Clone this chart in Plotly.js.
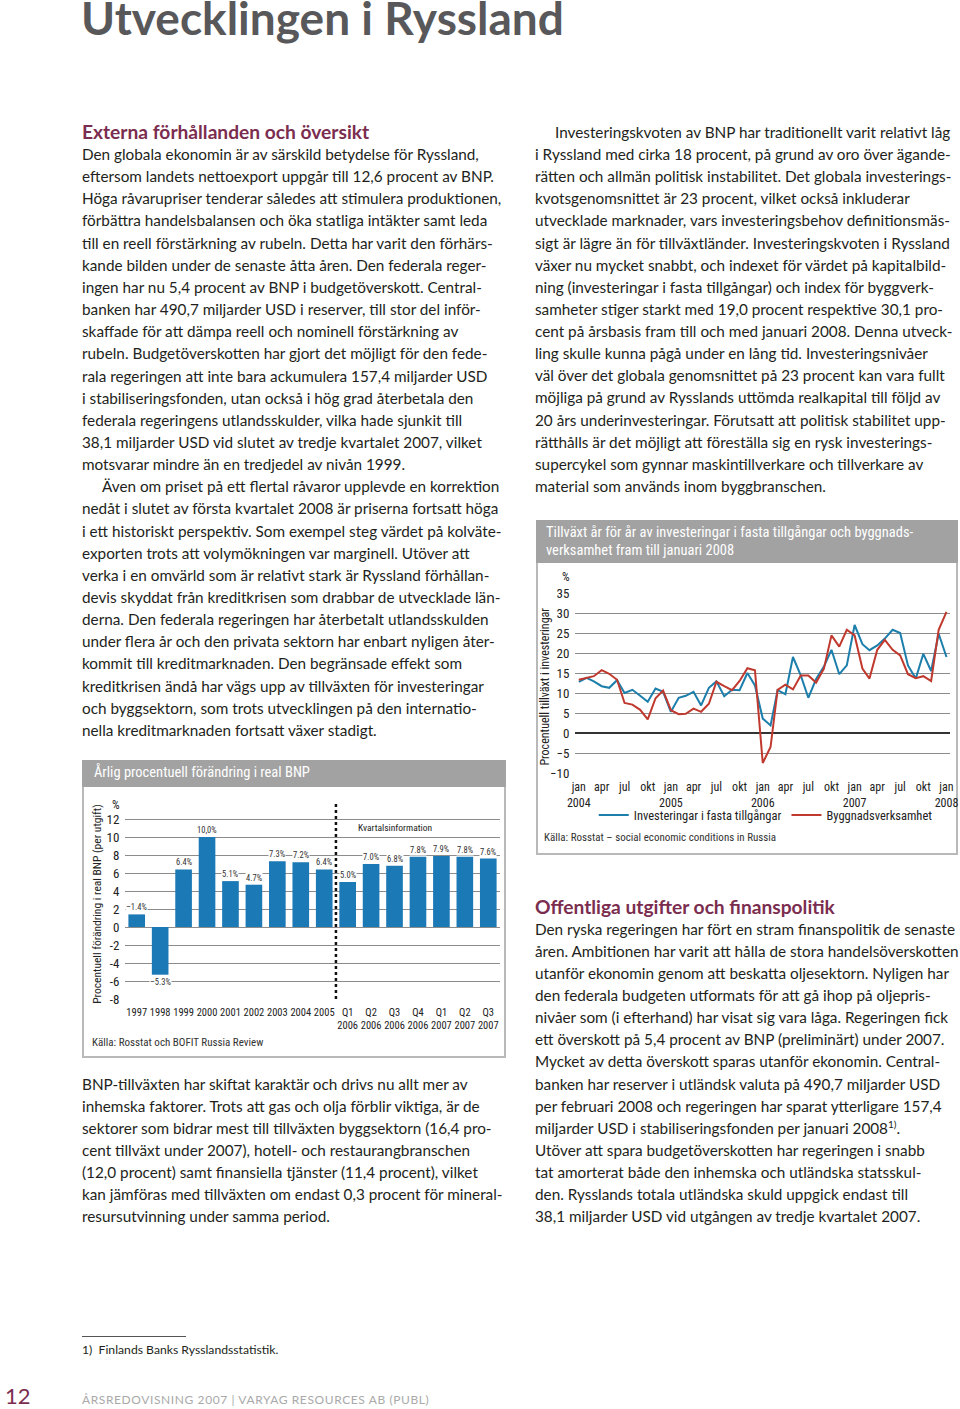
<!DOCTYPE html>
<html><head><meta charset="utf-8">
<script src="https://cdn.plot.ly/plotly-3.0.1.min.js"></script>
<style>
html,body{margin:0;padding:0;background:#fff;}
#page{position:relative;width:960px;height:1409px;overflow:hidden;background:#fff;font-family:Lato,"Open Sans",sans-serif;color:#231f20;}
.l{position:absolute;height:22px;line-height:22px;font-size:15.3px;white-space:nowrap;text-align:left;}
.h{position:absolute;font-size:19.2px;font-weight:700;color:#7b2d4f;line-height:22px;white-space:nowrap;}
.box{position:absolute;border:2px solid #b9b9b9;background:#fff;box-sizing:border-box;}
.hdr{position:absolute;background:#a2a2a2;}
.ct{position:absolute;color:#fff;font-family:"Liberation Sans Narrow","Roboto Condensed","DejaVu Sans Condensed",Roboto,sans-serif;font-size:14.5px;white-space:nowrap;line-height:18px;}
.src{position:absolute;font-family:"Liberation Sans Narrow","Roboto Condensed","DejaVu Sans Condensed",Roboto,sans-serif;font-size:11px;color:#333;white-space:nowrap;}
.chart{position:absolute;}
</style>
</head><body>
<div id="page">
  <div style="position:absolute;left:81px;top:0px;font-size:46px;line-height:36px;font-weight:700;color:#58585a;white-space:nowrap;">Utvecklingen i Ryssland</div>

  <div class="h" style="left:82px;top:121px;">Externa förhållanden och översikt</div>
  <div class="h" style="left:535px;top:896px;">Offentliga utgifter och finanspolitik</div>

  <div class="box" style="left:82px;top:760px;width:424px;height:298px;"></div>
  <div class="hdr" style="left:82px;top:760px;width:424px;height:27px;"></div>
  <div class="ct" style="left:94px;top:764px;">Årlig procentuell förändring i real BNP</div>
  <div class="src" style="left:92px;top:1036px;">Källa: Rosstat och BOFIT Russia Review</div>
  <div id="barchart" class="chart" style="left:82px;top:788px;width:424px;height:268px;"></div>

  <div class="box" style="left:536px;top:520px;width:422px;height:335px;"></div>
  <div class="hdr" style="left:536px;top:520px;width:422px;height:43px;"></div>
  <div class="ct" style="left:546px;top:524px;">Tillväxt år för år av investeringar i fasta tillgångar och byggnads-</div>
  <div class="ct" style="left:546px;top:542px;">verksamhet fram till januari 2008</div>
  <div class="src" style="left:544px;top:831px;">Källa: Rosstat – social economic conditions in Russia</div>
  <div id="linechart" class="chart" style="left:537px;top:565px;width:423px;height:288px;"></div>

  <div style="position:absolute;left:82px;top:1336px;width:104px;height:1px;background:#555;"></div>
  <div style="position:absolute;left:82px;top:1342px;font-size:12.2px;line-height:16px;white-space:nowrap;">1)&nbsp; Finlands Banks Rysslandsstatistik.</div>
  <div style="position:absolute;left:5px;top:1384px;font-size:22px;line-height:24px;color:#7b2d4f;">12</div>
  <div style="position:absolute;left:82px;top:1392px;font-size:12px;line-height:16px;letter-spacing:0.6px;color:#a9a9a9;white-space:nowrap;">ÅRSREDOVISNING 2007 | VARYAG RESOURCES AB (PUBL)</div>
</div>

<script>
// ---------- data: bar chart ----------
const barCategories = ['1997','1998','1999','2000','2001','2002','2003','2004','2005','Q1 2006','Q2 2006','Q3 2006','Q4 2006','Q1 2007','Q2 2007','Q3 2007'];
const barTickText = ['1997','1998','1999','2000','2001','2002','2003','2004','2005','Q1<br>2006','Q2<br>2006','Q3<br>2006','Q4<br>2006','Q1<br>2007','Q2<br>2007','Q3<br>2007'];
const barValues = [1.4, -5.3, 6.4, 10.0, 5.1, 4.7, 7.3, 7.2, 6.4, 5.0, 7.0, 6.8, 7.8, 7.9, 7.8, 7.6];
const barLabels = ['–1.4%','–5.3%','6.4%','10,0%','5.1%','4.7%','7.3%','7.2%','6.4%','5.0%','7.0%','6.8%','7.8%','7.9%','7.8%','7.6%'];
const barYTicks = [-8,-6,-4,-2,0,2,4,6,8,10,12];

// ---------- data: line chart ----------
const lineMonths = ['2004-01-01','2004-02-01','2004-03-01','2004-04-01','2004-05-01','2004-06-01','2004-07-01','2004-08-01','2004-09-01','2004-10-01','2004-11-01','2004-12-01',
 '2005-01-01','2005-02-01','2005-03-01','2005-04-01','2005-05-01','2005-06-01','2005-07-01','2005-08-01','2005-09-01','2005-10-01','2005-11-01','2005-12-01',
 '2006-01-01','2006-02-01','2006-03-01','2006-04-01','2006-05-01','2006-06-01','2006-07-01','2006-08-01','2006-09-01','2006-10-01','2006-11-01','2006-12-01',
 '2007-01-01','2007-02-01','2007-03-01','2007-04-01','2007-05-01','2007-06-01','2007-07-01','2007-08-01','2007-09-01','2007-10-01','2007-11-01','2007-12-01','2008-01-01'];
const investeringar = [12.8,13.8,12.9,11.7,11.3,13.2,10.0,10.8,9.3,7.8,11.1,10.3,
 5.3,8.8,9.3,10.3,6.9,11.3,12.9,9.2,10.8,10.7,15.0,11.9,
 3.6,1.9,10.7,9.7,19.0,14.4,8.8,13.5,16.6,20.8,14.7,16.9,
 27.0,22.2,20.7,21.9,23.6,25.8,25.0,16.9,13.6,19.8,15.5,24.8,19.0];
const byggnad = [13.3,13.8,14.2,15.7,14.8,13.3,7.5,7.1,5.8,3.4,8.7,10.6,
 5.7,4.7,4.8,6.1,5.3,7.3,12.8,11.7,10.7,13.0,16.2,15.7,
 -7.5,-3.5,10.8,12.1,10.9,14.4,14.4,12.6,16.1,24.4,21.6,25.8,
 24.4,16.1,13.6,20.8,23.3,20.8,19.4,14.7,13.7,14.2,13.0,25.8,30.3];
const lineTickVals = ['2004-01-01','2004-04-01','2004-07-01','2004-10-01','2005-01-01','2005-04-01','2005-07-01','2005-10-01',
 '2006-01-01','2006-04-01','2006-07-01','2006-10-01','2007-01-01','2007-04-01','2007-07-01','2007-10-01','2008-01-01'];
const lineTickText = ['jan<br>2004','apr','jul','okt','jan<br>2005','apr','jul','okt','jan<br>2006','apr','jul','okt','jan<br>2007','apr','jul','okt','jan<br>2008'];
const seriesNames = ['Investeringar i fasta tillgångar','Byggnadsverksamhet'];

// ---------- text ----------
const leftLines = [
'Den globala ekonomin är av särskild betydelse för Ryssland,',
'eftersom landets nettoexport uppgår till 12,6 procent av BNP.',
'Höga råvarupriser tenderar således att stimulera produktionen,',
'förbättra handelsbalansen och öka statliga intäkter samt leda',
'till en reell förstärkning av rubeln. Detta har varit den förhärs-',
'kande bilden under de senaste åtta åren. Den federala reger-',
'ingen har nu 5,4 procent av BNP i budgetöverskott. Central-',
'banken har 490,7 miljarder USD i reserver, till stor del inför-',
'skaffade för att dämpa reell och nominell förstärkning av',
'rubeln. Budgetöverskotten har gjort det möjligt för den fede-',
'rala regeringen att inte bara ackumulera 157,4 miljarder USD',
'i stabiliseringsfonden, utan också i hög grad återbetala den',
'federala regeringens utlandsskulder, vilka hade sjunkit till',
'38,1 miljarder USD vid slutet av tredje kvartalet 2007, vilket',
'motsvarar mindre än en tredjedel av nivån 1999.',
'§Även om priset på ett flertal råvaror upplevde en korrektion',
'nedåt i slutet av första kvartalet 2008 är priserna fortsatt höga',
'i ett historiskt perspektiv. Som exempel steg värdet på kolväte-',
'exporten trots att volymökningen var marginell. Utöver att',
'verka i en omvärld som är relativt stark är Ryssland förhållan-',
'devis skyddat från kreditkrisen som drabbar de utvecklade län-',
'derna. Den federala regeringen har återbetalt utlandsskulden',
'under flera år och den privata sektorn har enbart nyligen åter-',
'kommit till kreditmarknaden. Den begränsade effekt som',
'kreditkrisen ändå har vägs upp av tillväxten för investeringar',
'och byggsektorn, som trots utvecklingen på den internatio-',
'nella kreditmarknaden fortsatt växer stadigt.'];
const bnpLines = [
'BNP-tillväxten har skiftat karaktär och drivs nu allt mer av',
'inhemska faktorer. Trots att gas och olja förblir viktiga, är de',
'sektorer som bidrar mest till tillväxten byggsektorn (16,4 pro-',
'cent tillväxt under 2007), hotell- och restaurangbranschen',
'(12,0 procent) samt finansiella tjänster (11,4 procent), vilket',
'kan jämföras med tillväxten om endast 0,3 procent för mineral-',
'resursutvinning under samma period.'];
const rightLines = [
'§Investeringskvoten av BNP har traditionellt varit relativt låg',
'i Ryssland med cirka 18 procent, på grund av oro över ägande-',
'rätten och allmän politisk instabilitet. Det globala investerings-',
'kvotsgenomsnittet är 23 procent, vilket också inkluderar',
'utvecklade marknader, vars investeringsbehov definitionsmäs-',
'sigt är lägre än för tillväxtländer. Investeringskvoten i Ryssland',
'växer nu mycket snabbt, och indexet för värdet på kapitalbild-',
'ning (investeringar i fasta tillgångar) och index för byggverk-',
'samheter stiger starkt med 19,0 procent respektive 30,1 pro-',
'cent på årsbasis fram till och med januari 2008. Denna utveck-',
'ling skulle kunna pågå under en lång tid. Investeringsnivåer',
'väl över det globala genomsnittet på 23 procent kan vara fullt',
'möjliga på grund av Rysslands uttömda realkapital till följd av',
'20 års underinvesteringar. Förutsatt att politisk stabilitet upp-',
'rätthålls är det möjligt att föreställa sig en rysk investerings-',
'supercykel som gynnar maskintillverkare och tillverkare av',
'material som används inom byggbranschen.'];
const fiscalLines = [
'Den ryska regeringen har fört en stram finanspolitik de senaste',
'åren. Ambitionen har varit att hålla de stora handelsöverskotten',
'utanför ekonomin genom att beskatta oljesektorn. Nyligen har',
'den federala budgeten utformats för att gå ihop på oljepris-',
'nivåer som (i efterhand) har visat sig vara låga. Regeringen fick',
'ett överskott på 5,4 procent av BNP (preliminärt) under 2007.',
'Mycket av detta överskott sparas utanför ekonomin. Central-',
'banken har reserver i utländsk valuta på 490,7 miljarder USD',
'per februari 2008 och regeringen har sparat ytterligare 157,4',
'miljarder USD i stabiliseringsfonden per januari 2008<sup style="font-size:10px;line-height:0;">1)</sup>.',
'Utöver att spara budgetöverskotten har regeringen i snabb',
'tat amorterat både den inhemska och utländska statsskul-',
'den. Rysslands totala utländska skuld uppgick endast till',
'38,1 miljarder USD vid utgången av tredje kvartalet 2007.'];

const page = document.getElementById('page');
function placeLines(lines, x, y0, step){
  lines.forEach((s,i)=>{
    const d = document.createElement('div');
    d.className = 'l';
    let ind = 0;
    if (s.startsWith('§')) { s = s.slice(1); ind = 20; }
    d.style.left = (x+ind)+'px';
    d.style.top = (y0 + i*step - 12)+'px';
    d.innerHTML = s;
    page.appendChild(d);
  });
}
placeLines(leftLines, 82, 155, 22.15);
placeLines(bnpLines, 82, 1085, 22.0);
placeLines(rightLines, 535, 133, 22.12);
placeLines(fiscalLines, 535, 930, 22.08);

const chartFont = '"Liberation Sans Narrow","Roboto Condensed","DejaVu Sans Condensed",Roboto,sans-serif';

// ---------- bar chart ----------
const barAnnotations = barValues.map((v,i)=>({
  x:i, y:v, xref:'x', yref:'y', text:barLabels[i], showarrow:false, xanchor:'center', yanchor:'middle',
  yshift: v>=0 ? 7 : -7, font:{size:8.5,color:'#333',family:chartFont},
  bgcolor:'#fff', borderpad:0
}));
barAnnotations.push({xref:'paper', yref:'y', x:-0.025, y:13.6, xanchor:'center', yanchor:'middle', text:'%', showarrow:false, font:{size:12,color:'#222',family:chartFont}});
barAnnotations.push({xref:'paper', yref:'y', x:0.615, y:11.1, xanchor:'left', yanchor:'middle', text:'Kvartalsinformation', showarrow:false, font:{size:9.5,color:'#222',family:chartFont}});
barAnnotations.push({xref:'paper', yref:'paper', x:-0.075, y:0.48, xanchor:'center', yanchor:'middle', text:'Procentuell förändring i real BNP (per utgift)', textangle:-90, showarrow:false, font:{size:11.5,color:'#222',family:chartFont}});

Plotly.newPlot('barchart', [{
  type:'bar', x:barCategories, y:barValues, marker:{color:'#1b79b6'}, width:0.71, hoverinfo:'none'
}], {
  width:424, height:268, margin:{l:43, r:6, t:13.3, b:56.7},
  paper_bgcolor:'rgba(0,0,0,0)', plot_bgcolor:'rgba(0,0,0,0)',
  showlegend:false,
  font:{family:chartFont, color:'#222'},
  xaxis:{type:'category', range:[-0.5,15.5], tickvals:barCategories, ticktext:barTickText,
    tickfont:{size:10.5,color:'#222'}, showgrid:false, zeroline:false, showline:false,
    ticks:'outside', ticklen:3, tickcolor:'rgba(0,0,0,0)', tickangle:0},
  yaxis:{range:[-8,14], tickvals:barYTicks, ticktext:barYTicks.map(String), tickfont:{size:13,color:'#222'},
    showgrid:true, gridcolor:'#8c8c8c', gridwidth:1, zeroline:false, showline:false,
    ticks:'outside', ticklen:2, tickcolor:'rgba(0,0,0,0)'},
  shapes:[{type:'line', xref:'x', yref:'y', x0:8.5, x1:8.5, y0:-8, y1:14, line:{color:'#111', width:2.5, dash:'dot'}}],
  annotations:barAnnotations
}, {displayModeBar:false, staticPlot:true});

// ---------- line chart ----------
Plotly.newPlot('linechart', [
  {type:'scatter', mode:'lines', x:lineMonths, y:investeringar, name:seriesNames[0], line:{color:'#1c7eab', width:2}},
  {type:'scatter', mode:'lines', x:lineMonths, y:byggnad, name:seriesNames[1], line:{color:'#c0392e', width:2}}
], {
  width:423, height:288, margin:{l:38, r:10, t:27.7, b:80.3},
  paper_bgcolor:'rgba(0,0,0,0)', plot_bgcolor:'rgba(0,0,0,0)',
  font:{family:chartFont, color:'#222'},
  showlegend:true,
  legend:{orientation:'h', x:0.05, xanchor:'left', y:-0.235, yanchor:'middle', font:{size:12.5,color:'#222'}, bgcolor:'rgba(0,0,0,0)', itemwidth:30},
  xaxis:{type:'date', range:['2003-12-17','2008-01-15'], tickvals:lineTickVals, ticktext:lineTickText,
    tickfont:{size:12,color:'#222'}, showgrid:false, zeroline:false, showline:false, ticklabeloverflow:'allow',
    ticks:'outside', ticklen:3, tickcolor:'rgba(0,0,0,0)', tickangle:0},
  yaxis:{range:[-10,35], dtick:5, tick0:0, tickfont:{size:13,color:'#222'},
    showgrid:true, gridcolor:'#8c8c8c', gridwidth:1, zeroline:true, zerolinecolor:'#333', zerolinewidth:1.5,
    showline:false, ticks:'outside', ticklen:2, tickcolor:'rgba(0,0,0,0)'},
  annotations:[
    {xref:'paper', yref:'paper', x:-0.024, y:1.087, xanchor:'center', yanchor:'middle', text:'%', showarrow:false, font:{size:12,color:'#222',family:chartFont}},
    {xref:'paper', yref:'paper', x:-0.08, y:0.48, xanchor:'center', yanchor:'middle', text:'Procentuell tillväxt i investeringar', textangle:-90, showarrow:false, font:{size:12,color:'#222',family:chartFont}}
  ]
}, {displayModeBar:false, staticPlot:true});
</script>
</body></html>
